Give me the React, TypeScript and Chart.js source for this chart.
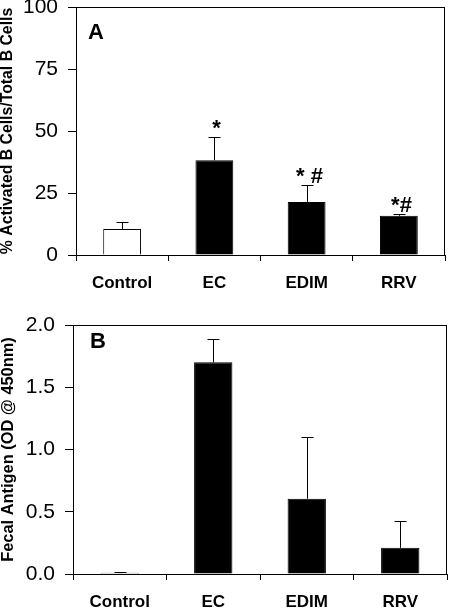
import React, { useEffect, useRef } from "react";
import { Chart, registerables } from "chart.js";

Chart.register(...registerables);

// ---- data ----
const categories = ["Control", "EC", "EDIM", "RRV"];

const activatedMean = [10.5, 38.2, 21.4, 15.8];
const activatedErr = [2.7, 9.4, 6.8, 0.7];
const activatedMarks = ["", "*", "* #", "*#"];
const activatedTicks = [0, 25, 50, 75, 100];

const fecalMean = [0.01, 1.7, 0.605, 0.21];
const fecalErr = [0.005, 0.19, 0.495, 0.215];
const fecalMarks = ["", "", "", ""];
const fecalTicks = [0, 0.5, 1.0, 1.5, 2.0];

const barFills = ["#ffffff", "#000000", "#000000", "#000000"];

const FONT = "Arial, 'Liberation Sans', Helvetica, sans-serif";

type Panel = {
  letter: string;
  yTitle: string;
  means: number[];
  errs: number[];
  marks: string[];
  ticks: number[];
  decimals: number;
  height: number;
  left: number;
  right: number;
  top: number;
  bottom: number;
  letterDx: number;
  letterDy: number;
  titleSize: number;
};

const panels: Panel[] = [
  {
    letter: "A",
    yTitle: "% Activated B Cells/Total B Cells",
    means: activatedMean,
    errs: activatedErr,
    marks: activatedMarks,
    ticks: activatedTicks,
    decimals: 0,
    height: 300,
    left: 76,
    right: 445,
    top: 7,
    bottom: 255,
    letterDx: 12,
    letterDy: 32,
    titleSize: 15.8,
  },
  {
    letter: "B",
    yTitle: "Fecal Antigen (OD @ 450nm)",
    means: fecalMean,
    errs: fecalErr,
    marks: fecalMarks,
    ticks: fecalTicks,
    decimals: 1,
    height: 308,
    left: 73,
    right: 447,
    top: 25,
    bottom: 274,
    letterDx: 17,
    letterDy: 23,
    titleSize: 16.4,
  },
];

function makePlugin(p: Panel) {
  return {
    id: "panelDecor" + p.letter,
    afterDatasetsDraw(chart: any) {
      const ctx = chart.ctx;
      const area = chart.chartArea;
      const y = chart.scales.y;
      const meta = chart.getDatasetMeta(0);
      ctx.save();
      // frame: top and right
      ctx.strokeStyle = "#000";
      ctx.lineWidth = 1;
      ctx.beginPath();
      ctx.moveTo(area.left, Math.round(area.top) + 0.5);
      ctx.lineTo(area.right, Math.round(area.top) + 0.5);
      ctx.moveTo(Math.round(area.right) - 0.5, area.top);
      ctx.lineTo(Math.round(area.right) - 0.5, area.bottom);
      ctx.stroke();
      // error bars
      meta.data.forEach((bar: any, i: number) => {
        const x = Math.round(bar.x) + 0.5;
        const yBase = y.getPixelForValue(p.means[i]);
        const yTop = Math.round(y.getPixelForValue(p.means[i] + p.errs[i])) + 0.5;
        ctx.beginPath();
        ctx.moveTo(x, yBase);
        ctx.lineTo(x, yTop);
        ctx.moveTo(x - 6, yTop);
        ctx.lineTo(x + 6, yTop);
        ctx.stroke();
        if (p.marks[i]) {
          ctx.fillStyle = "#000";
          ctx.font = `bold 22px ${FONT}`;
          ctx.textAlign = "center";
          ctx.textBaseline = "alphabetic";
          ctx.fillText(p.marks[i], x + 2, yTop - 3);
        }
      });
      // panel letter
      ctx.fillStyle = "#000";
      ctx.font = `bold 22px ${FONT}`;
      ctx.textAlign = "left";
      ctx.textBaseline = "alphabetic";
      ctx.fillText(p.letter, area.left + p.letterDx, area.top + p.letterDy);
      ctx.restore();
    },
  };
}

function PanelChart({ p }: { p: Panel }) {
  const ref = useRef<HTMLCanvasElement | null>(null);
  useEffect(() => {
    if (!ref.current) return;
    const W = 450;
    const padRight = W - p.right;
    const xHeight = p.height - p.bottom;
    const chart = new Chart(ref.current, {
      type: "bar",
      data: {
        labels: categories,
        datasets: [
          {
            data: p.means,
            backgroundColor: barFills,
            borderColor: "#000",
            borderWidth: 1,
            borderSkipped: "bottom",
            categoryPercentage: 1,
            barPercentage: 0.41,
          },
        ],
      },
      options: {
        responsive: false,
        animation: false,
        devicePixelRatio: 1,
        layout: { padding: { top: p.top, right: padRight, left: 0, bottom: 0 } },
        plugins: {
          legend: { display: false },
          tooltip: { enabled: false },
        },
        scales: {
          x: {
            type: "category",
            offset: true,
            grid: {
              offset: true,
              drawOnChartArea: false,
              drawTicks: true,
              tickLength: 6,
              color: "#000",
            },
            border: { display: true, color: "#000", width: 1 },
            ticks: {
              color: "#000",
              padding: 12,
              font: { family: FONT, size: 17, weight: "bold" },
              maxRotation: 0,
              autoSkip: false,
            },
            afterFit: (scale: any) => {
              scale.height = xHeight;
              scale.paddingLeft = 0;
              scale.paddingRight = 0;
            },
          },
          y: {
            type: "linear",
            min: p.ticks[0],
            max: p.ticks[p.ticks.length - 1],
            afterBuildTicks: (scale: any) => {
              scale.ticks = p.ticks.map((v) => ({ value: v }));
            },
            grid: {
              drawOnChartArea: false,
              drawTicks: true,
              tickLength: 8,
              color: "#000",
            },
            border: { display: true, color: "#000", width: 1 },
            ticks: {
              color: "#000",
              padding: 10,
              font: { family: FONT, size: 21 },
              callback: (v: any) => Number(v).toFixed(p.decimals),
            },
            title: {
              display: true,
              text: p.yTitle,
              color: "#000",
              font: { family: FONT, size: p.titleSize, weight: "bold", lineHeight: 1 },
              padding: { top: 0, bottom: 0 },
            },
            afterFit: (scale: any) => {
              scale.width = p.left;
              scale.paddingTop = 0;
              scale.paddingBottom = 0;
            },
          },
        },
      },
      plugins: [makePlugin(p)],
    } as any);
    return () => chart.destroy();
  }, [p]);
  return (
    <canvas
      ref={ref}
      width={450}
      height={p.height}
      style={{ display: "block", width: 450, height: p.height }}
    />
  );
}

export default function App() {
  return (
    <div
      style={{
        position: "fixed",
        left: 0,
        top: 0,
        width: 450,
        height: 608,
        background: "#fff",
        overflow: "hidden",
      }}
    >
      {panels.map((p) => (
        <PanelChart key={p.letter} p={p} />
      ))}
    </div>
  );
}
